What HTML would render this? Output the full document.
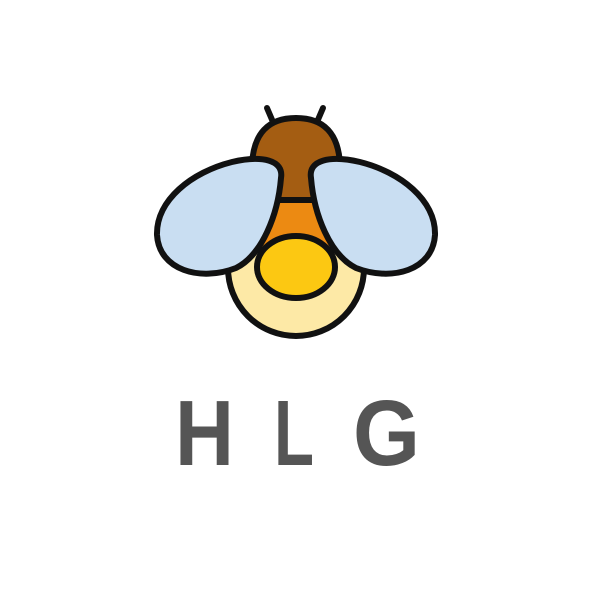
<!DOCTYPE html>
<html><head><meta charset="utf-8"><style>
html,body{margin:0;padding:0;background:#fff;width:591px;height:591px;overflow:hidden}
</style></head><body>
<svg width="591" height="591" viewBox="0 0 591 591">
<g stroke="#111" stroke-width="6" stroke-linecap="round" stroke-linejoin="round">
  <line x1="267" y1="108" x2="273" y2="122"/>
  <line x1="323" y1="108" x2="317" y2="122"/>
  <circle cx="296" cy="268" r="68" fill="#fde9a6"/>
  <path d="M252 165 Q254 118 296 118 Q338 118 340 165 L322 205 L270 205 Z" fill="#a45d12"/>
  <path d="M270 200 L322 200 L336 250 L256 250 Z" fill="#ec8a12"/>
  <ellipse cx="296" cy="267" rx="39" ry="31" fill="#fcc812"/>
  <path d="M281 178 C284 160 262 155 232 162 C192 172 156 200 157 235 C159 270 200 282 236 268 C262 255 278 215 281 178 Z" fill="#c9def2"/>
  <path transform="translate(592 0) scale(-1 1)" d="M281 178 C284 160 262 155 232 162 C192 172 156 200 157 235 C159 270 200 282 236 268 C262 255 278 215 281 178 Z" fill="#c9def2"/>
</g>
<g fill="#555" font-family="Liberation Sans, sans-serif" font-weight="bold" font-size="93">
  <text x="175" y="465" textLength="59" lengthAdjust="spacingAndGlyphs">H</text>
  <text x="274" y="465" textLength="40" lengthAdjust="spacingAndGlyphs">L</text>
  <text x="353" y="465" textLength="67" lengthAdjust="spacingAndGlyphs">G</text>
</g>
</svg>
</body></html>
